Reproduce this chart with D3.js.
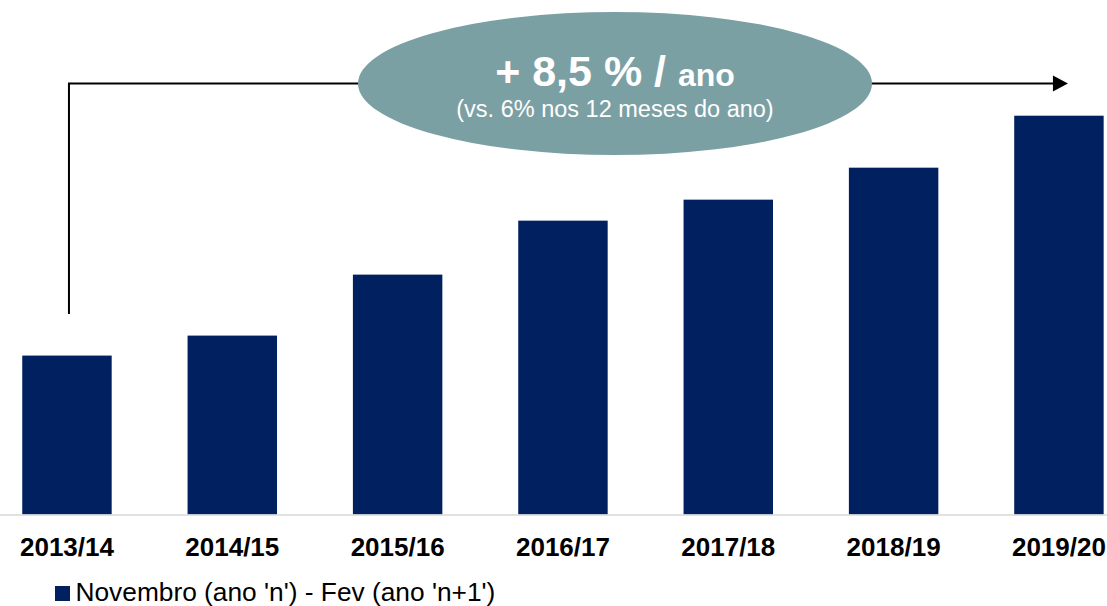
<!DOCTYPE html>
<html lang="pt">
<head>
    <meta charset="utf-8">
    <style>
        body { margin: 0; background: #fff; }
        svg { display: block; font-family: "Liberation Sans", Arial, sans-serif; }
    </style>
</head>
<body>
    <svg width="1107" height="606"></svg>
    <script src="https://cdn.jsdelivr.net/npm/d3@7"></script>
    <script>
        // Data (no y axis in the original, values read as relative heights)
        const seasons = ["2013/14", "2014/15", "2015/16", "2016/17", "2017/18", "2018/19", "2019/20"];
        const values = [159, 179, 240, 294, 315, 347, 399];
        const seriesName = "Novembro (ano 'n') - Fev (ano 'n+1')";
        const growthLabel = ["+ 8,5 % / ", "ano"];
        const growthNote = "(vs. 6% nos 12 meses do ano)";

        const svg = d3.select("svg");
        const barColor = "#002060";
        const baseline = 514.5;

        const x = d3.scaleBand()
            .domain(seasons)
            .range([-15.7, 1141.6])
            .paddingInner(0.459)
            .paddingOuter(0.2295);

        const y = d3.scaleLinear()
            .domain([0, d3.max(values)])
            .range([baseline, 115.7]);

        /************************************************************
        * Bars
        ************************************************************/
        svg.append("g").selectAll("rect")
            .data(seasons)
            .enter()
            .append("rect")
            .attr("x", d => x(d))
            .attr("width", x.bandwidth())
            .attr("y", (d, i) => y(values[i]))
            .attr("height", (d, i) => baseline - y(values[i]))
            .style("fill", barColor);

        // Category axis: light line + bold labels
        const axis = svg.append("g")
            .attr("transform", `translate(0, ${baseline})`)
            .call(d3.axisBottom(x).tickSize(0).tickPadding(0));
        axis.select(".domain").remove();
        axis.selectAll("text")
            .attr("dy", 0).attr("y", 41.5)
            .style("font-family", "'Liberation Sans', Arial, sans-serif")
            .style("font-size", "26px").style("font-weight", "bold")
            .style("fill", "#000");

        svg.append("line")
            .attr("x1", 0).attr("x2", 1107)
            .attr("y1", baseline + 0.5).attr("y2", baseline + 0.5)
            .style("stroke", "#d9d9d9").style("stroke-width", 1.5);

        /************************************************************
        * Growth arrow + ellipse
        ************************************************************/
        const arrowY = 83.5;
        const xStart = x(seasons[0]) + x.bandwidth() / 2 + 2;
        const xEnd = x(seasons[seasons.length - 1]) + x.bandwidth() / 2 + 9;

        svg.append("path")
            .attr("d", `M ${xStart} 314 V ${arrowY} H ${xEnd - 14}`)
            .style("fill", "none").style("stroke", "#000").style("stroke-width", 2);
        svg.append("path")
            .attr("d", `M ${xEnd - 15} ${arrowY - 8} L ${xEnd} ${arrowY} L ${xEnd - 15} ${arrowY + 8} Z`)
            .style("fill", "#000");

        const cx = 615;
        svg.append("ellipse")
            .attr("cx", cx).attr("cy", 83.5).attr("rx", 257).attr("ry", 71.5)
            .style("fill", "#7ba0a4");

        const title = svg.append("text")
            .attr("x", cx).attr("y", 86)
            .attr("text-anchor", "middle")
            .style("fill", "#fff").style("font-weight", "bold");
        title.append("tspan").style("font-size", "43px").text(growthLabel[0]);
        title.append("tspan").style("font-size", "32px").text(growthLabel[1]);

        svg.append("text")
            .attr("x", cx).attr("y", 117)
            .attr("text-anchor", "middle")
            .style("fill", "#fff").style("font-size", "23.5px")
            .text(growthNote);

        /************************************************************
        * Legend
        ************************************************************/
        svg.append("rect")
            .attr("x", 55).attr("y", 586).attr("width", 15).attr("height", 15)
            .style("fill", barColor);
        svg.append("text")
            .attr("x", 75.5).attr("y", 600.5)
            .style("font-size", "26.3px").style("fill", "#000")
            .text(seriesName);
    </script>
</body>
</html>
